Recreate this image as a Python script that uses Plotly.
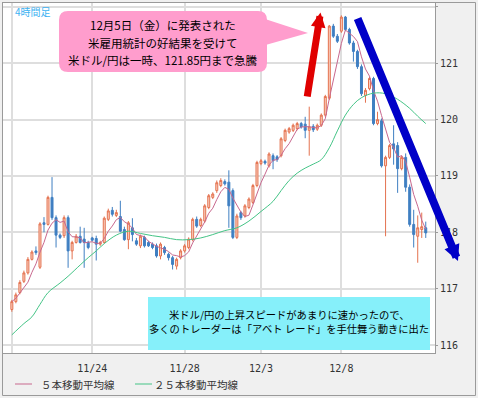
import plotly.graph_objects as go
import pandas as pd

# ---------------- data ----------------
candle_idx = list(range(104))
open_ = [116.63, 116.77, 116.93, 117.13, 117.28, 117.52, 117.67, 117.38, 118.17, 118.14,
         118.62, 118.26, 117.95, 117.94, 118.26, 117.67, 117.82, 117.93, 117.88, 117.82,
         117.90, 117.89, 117.79, 117.82, 118.23, 118.39, 118.30, 118.28, 118.05, 117.87,
         118.08, 117.85, 117.76, 117.91, 117.82, 117.79, 117.76, 117.58, 117.73, 117.61,
         117.55, 117.40, 117.55, 117.67, 117.73, 117.87, 118.23, 118.12, 118.20, 118.44,
         118.62, 118.74, 118.83, 118.90, 118.89, 118.74, 117.91, 118.35, 118.29, 118.44,
         118.53, 118.83, 119.22, 119.26, 119.18, 119.36, 119.34, 119.36, 119.63, 119.78,
         119.81, 119.84, 119.93, 119.92, 119.81, 119.88, 119.83, 119.90, 120.08, 120.38,
         121.66, 121.48, 121.57, 121.82, 121.60, 121.36, 121.21, 120.94, 120.43, 120.55,
         120.73, 119.93, 119.98, 119.18, 119.33, 119.57, 119.54, 119.13, 119.33, 118.80,
         118.14, 117.93, 118.05, 118.08]
high = [116.80, 116.93, 117.15, 117.32, 117.56, 117.68, 117.75, 118.18, 118.27, 118.65,
        118.98, 118.30, 117.98, 118.30, 118.30, 117.85, 117.97, 118.10, 118.08, 117.85,
        117.92, 117.94, 117.85, 118.28, 118.42, 118.45, 118.40, 118.56, 118.10, 118.20,
        118.25, 117.90, 117.96, 117.94, 117.85, 117.82, 117.80, 117.82, 117.76, 117.64,
        117.58, 117.55, 117.70, 117.79, 117.91, 118.26, 118.28, 118.26, 118.50, 118.68,
        118.71, 118.92, 118.96, 118.94, 119.10, 118.78, 118.33, 118.38, 118.50, 118.62,
        118.86, 119.27, 119.30, 119.29, 119.42, 119.40, 119.37, 119.69, 119.84, 119.87,
        119.93, 119.96, 119.96, 120.05, 120.23, 119.92, 119.93, 120.11, 120.44, 121.68,
        121.70, 121.52, 121.85, 121.84, 121.63, 121.40, 121.24, 120.98, 120.56, 120.76,
        120.76, 120.14, 120.02, 119.36, 119.57, 119.90, 119.60, 119.36, 119.40, 118.85,
        118.40, 118.30, 118.35, 118.19]
low = [116.59, 116.74, 116.90, 117.10, 117.25, 117.50, 117.60, 117.35, 118.00, 118.12,
       118.22, 117.73, 117.88, 117.90, 117.37, 117.52, 117.80, 117.80, 117.37, 117.70,
       117.84, 117.50, 117.76, 117.80, 118.20, 118.28, 118.27, 118.00, 117.85, 117.70,
       117.84, 117.76, 117.72, 117.73, 117.74, 117.70, 117.55, 117.52, 117.60, 117.50,
       117.34, 117.34, 117.52, 117.64, 117.70, 117.84, 118.08, 118.09, 118.17, 118.41,
       118.59, 118.70, 118.80, 118.83, 118.08, 117.88, 117.88, 118.22, 118.26, 118.41,
       118.50, 118.80, 119.19, 119.20, 119.15, 119.12, 119.25, 119.33, 119.60, 119.75,
       119.78, 119.81, 119.84, 119.67, 119.36, 119.78, 119.80, 119.87, 120.05, 120.35,
       121.45, 121.36, 121.54, 121.57, 121.33, 121.03, 120.90, 120.42, 120.30, 120.52,
       119.90, 119.90, 119.15, 117.93, 119.30, 119.20, 118.70, 119.10, 118.72, 118.10,
       117.73, 117.46, 117.90, 117.90]
close = [116.77, 116.89, 117.11, 117.28, 117.52, 117.65, 117.64, 118.15, 118.14, 118.62,
         118.26, 117.95, 117.91, 118.26, 117.67, 117.82, 117.93, 117.82, 117.82, 117.73,
         117.86, 117.79, 117.82, 118.25, 118.38, 118.32, 118.35, 118.02, 117.87, 118.17,
         117.96, 117.79, 117.93, 117.76, 117.76, 117.73, 117.58, 117.79, 117.64, 117.55,
         117.43, 117.52, 117.67, 117.76, 117.88, 118.23, 118.11, 118.23, 118.47, 118.65,
         118.68, 118.88, 118.92, 118.86, 118.47, 117.91, 118.29, 118.26, 118.47, 118.59,
         118.83, 119.24, 119.27, 119.23, 119.39, 119.27, 119.29, 119.66, 119.81, 119.84,
         119.90, 119.93, 119.87, 119.81, 119.87, 119.82, 119.90, 120.08, 120.41, 121.66,
         121.48, 121.39, 121.82, 121.60, 121.36, 121.21, 120.94, 120.46, 120.52, 120.73,
         119.93, 120.00, 119.18, 119.33, 119.54, 119.48, 119.13, 119.33, 118.80, 118.14,
         117.96, 118.08, 118.10, 117.99]

ma25_idx = [0, 3, 5, 7, 9, 12, 14, 17, 19, 21, 23, 26, 29, 32, 35, 38, 41, 44, 47, 50,
            53, 56, 59, 62, 65, 67, 69, 71, 73, 75, 77, 79, 81, 83, 85, 87, 90, 93, 96,
            99, 101, 103]
ma25_val = [116.18, 116.38, 116.50, 116.72, 116.93, 117.10, 117.22, 117.42, 117.55, 117.67,
            117.80, 117.95, 118.02, 117.98, 117.94, 117.91, 117.87, 117.87, 117.90, 117.96,
            118.03, 118.08, 118.20, 118.37, 118.55, 118.74, 118.92, 119.05, 119.14, 119.21,
            119.29, 119.50, 119.80, 120.08, 120.27, 120.39, 120.47, 120.46, 120.36, 120.20,
            120.06, 119.93]

x_tick_pos = [0, 20, 43, 62, 82]
x_tick_labels = ["", "11/24", "11/28", "12/3", "12/8"]
y_tick_vals = [116, 117, 118, 119, 120, 121, 122]
y_tick_labels = ["116", "117", "118", "119", "120", "121", ""]

legend_names = ["５本移動平均線", "２５本移動平均線"]
legend_colors = ["#c8688e", "#44c486"]
note_top = ["12月5日（金）に発表された", "米雇用統計の好結果を受けて", "米ドル/円は一時、121.85円まで急騰"]
note_bottom = ["米ドル/円の上昇スピードがあまりに速かったので、", "多くのトレーダーは「アベト レード」を手仕舞う動きに出た"]
timeframe_label = "4時間足"

ma5 = pd.Series(close).rolling(5, min_periods=1).mean().tolist()

# ---------------- figure ----------------
W, H = 478, 398
L, R, T, B = 3, 43, 3, 45
PW, PH = W - L - R, H - T - B


def px(x):
    return (x - L) / PW


def py(y):
    return (H - B - y) / PH


fig = go.Figure()
fig.add_trace(go.Candlestick(
    x=candle_idx, open=open_, high=high, low=low, close=close,
    increasing=dict(line=dict(color="#e4724f", width=1), fillcolor="#fad2c4"),
    decreasing=dict(line=dict(color="#3f7fc2", width=1), fillcolor="#3f7fc2"),
    whiskerwidth=0, showlegend=False, hoverinfo="skip",
))
fig.add_trace(go.Scatter(x=candle_idx, y=ma5, mode="lines", name=legend_names[0],
                         line=dict(color=legend_colors[0], width=1), showlegend=False, hoverinfo="skip"))
fig.add_trace(go.Scatter(x=ma25_idx, y=ma25_val, mode="lines", name=legend_names[1],
                         line=dict(color=legend_colors[1], width=1, shape="spline"), showlegend=False,
                         hoverinfo="skip"))

font_jp = "Noto Sans CJK JP"
shapes = []


def rrect(x0, y0, x1, y1, r):
    return ("M{a},{b} L{c},{b} Q{d},{b} {d},{e} L{d},{f} Q{d},{g} {c},{g} "
            "L{a},{g} Q{h},{g} {h},{f} L{h},{e} Q{h},{b} {a},{b} Z").format(
        a=px(x0 + r), b=py(y0), c=px(x1 - r), d=px(x1), e=py(y0 + r),
        f=py(y1 - r), g=py(y1), h=px(x0))


pink = "#ff9dcd"
shapes.append(dict(type="path", xref="paper", yref="paper", path=rrect(59, 11, 267, 72, 9),
                   fillcolor=pink, line=dict(width=0), layer="above"))
shapes.append(dict(type="path", xref="paper", yref="paper",
                   path="M{},{} L{},{} L{},{} Z".format(px(262), py(18), px(308), py(33), px(262), py(46)),
                   fillcolor=pink, line=dict(width=0), layer="above"))
shapes.append(dict(type="rect", xref="paper", yref="paper", x0=px(148), x1=px(430), y0=py(297), y1=py(350),
                   fillcolor="#86f0fa", line=dict(width=0), layer="above"))
# outer frame
shapes.append(dict(type="rect", xref="paper", yref="paper", x0=px(2.5), x1=px(475.5), y0=py(395.5), y1=py(2.5),
                   line=dict(color="#9a9a9a", width=1), fillcolor="rgba(0,0,0,0)", layer="above"))

annotations = []
for txt, yy in zip(note_top, [25, 42.5, 60]):
    annotations.append(dict(xref="paper", yref="paper", x=px(163), y=py(yy), text=txt, showarrow=False,
                            xanchor="center", yanchor="middle", font=dict(family=font_jp, size=11.5, color="#000")))
for txt, yy in zip(note_bottom, [314, 328.5]):
    annotations.append(dict(xref="paper", yref="paper", x=px(289), y=py(yy), text=txt, showarrow=False,
                            xanchor="center", yanchor="middle", font=dict(family=font_jp, size=10.3, color="#000")))
annotations.append(dict(xref="paper", yref="paper", x=px(13), y=py(12), text=timeframe_label, showarrow=False,
                        xanchor="left", yanchor="middle", font=dict(family=font_jp, size=10, color="#3cb2f2")))

# manual legend (line sample + label)
for name, col, lx0, tx in zip(legend_names, legend_colors, [15, 135], [39, 152]):
    shapes.append(dict(type="line", xref="paper", yref="paper", x0=px(lx0), x1=px(lx0 + 17),
                       y0=py(384), y1=py(384), line=dict(color=col, width=1)))
    annotations.append(dict(xref="paper", yref="paper", x=px(tx), y=py(384), text=name, showarrow=False,
                            xanchor="left", yanchor="middle",
                            font=dict(family=font_jp, size=10.5, color="#333")))

# red arrow
annotations.append(dict(xref="paper", yref="paper", x=px(320.5), y=py(12.5), text="", showarrow=True,
                        ax=307 - 320.5, ay=98 - 12.5, arrowhead=2, arrowsize=0.42, arrowwidth=7,
                        arrowcolor="#e00000", standoff=0))
# blue arrow
annotations.append(dict(xref="paper", yref="paper", x=px(458), y=py(261), text="", showarrow=True,
                        ax=357 - 458, ay=17 - 261, arrowhead=2, arrowsize=0.4, arrowwidth=8,
                        arrowcolor="#0000c8", standoff=0))

fig.update_layout(
    width=W, height=H,
    margin=dict(l=L, r=R, t=T, b=B, autoexpand=False),
    paper_bgcolor="#f0f0f0", plot_bgcolor="#ffffff",
    shapes=shapes, annotations=annotations,
    showlegend=False, hovermode=False,
    xaxis=dict(range=[-2.2, 105.3], tickmode="array", tickvals=x_tick_pos, ticktext=x_tick_labels,
               showgrid=True, gridcolor="#dedede", gridwidth=2, zeroline=False,
               showline=True, linecolor="#9a9a9a", linewidth=1, mirror=True,
               ticks="", ticklabelstandoff=6,
               tickfont=dict(family="DejaVu Sans Mono", size=10, color="#333"),
               rangeslider=dict(visible=False)),
    yaxis=dict(range=[115.858, 122.07], side="right", tickmode="array", tickvals=y_tick_vals,
               ticktext=y_tick_labels, showgrid=True, gridcolor="#dedede", gridwidth=2, zeroline=False,
               showline=True, linecolor="#9a9a9a", linewidth=1, mirror=True,
               ticks="outside", ticklen=2, tickcolor="#9a9a9a", ticklabelstandoff=0,
               tickfont=dict(family="DejaVu Sans Mono", size=10, color="#333")),
)

fig.write_html("out.html", config={"displayModeBar": False},
               post_script="document.body.style.margin='0';document.body.style.overflow='hidden';")
